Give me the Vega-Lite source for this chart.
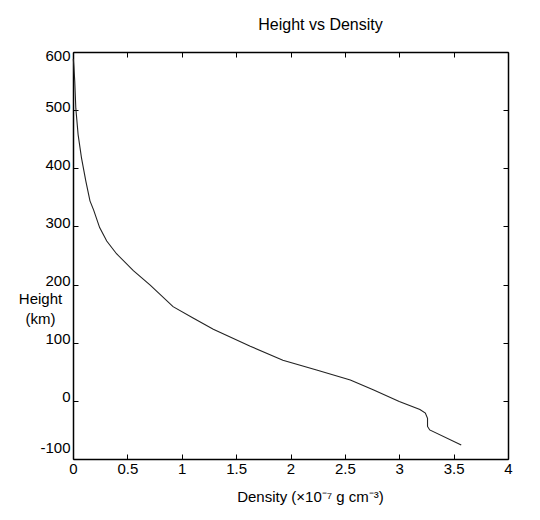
{
  "$schema": "https://vega.github.io/schema/vega-lite/v6.json",
  "width": 435,
  "height": 407,
  "autosize": "none",
  "padding": {"left": 73, "top": 52, "right": 32, "bottom": 61},
  "background": "white",
  "title": {
    "text": "Height vs Density",
    "anchor": "middle",
    "dx": 30,
    "offset": 15,
    "fontSize": 16,
    "fontWeight": "normal",
    "font": "Liberation Sans",
    "color": "black"
  },
  "data": {
    "values": [
      {"Density": 0.003, "Height": 588},
      {"Density": 0.008, "Height": 575},
      {"Density": 0.016, "Height": 550},
      {"Density": 0.026, "Height": 503},
      {"Density": 0.047, "Height": 458},
      {"Density": 0.078, "Height": 418},
      {"Density": 0.118, "Height": 378},
      {"Density": 0.156, "Height": 344},
      {"Density": 0.19, "Height": 328},
      {"Density": 0.245, "Height": 298},
      {"Density": 0.31, "Height": 275},
      {"Density": 0.4, "Height": 253},
      {"Density": 0.555, "Height": 224},
      {"Density": 0.71, "Height": 199},
      {"Density": 0.92, "Height": 162},
      {"Density": 1.1, "Height": 143},
      {"Density": 1.29, "Height": 123},
      {"Density": 1.63, "Height": 94},
      {"Density": 1.93, "Height": 70},
      {"Density": 2.24, "Height": 53},
      {"Density": 2.55, "Height": 36},
      {"Density": 2.76, "Height": 19},
      {"Density": 3.0, "Height": -1},
      {"Density": 3.19, "Height": -15},
      {"Density": 3.24, "Height": -21},
      {"Density": 3.26, "Height": -30},
      {"Density": 3.26, "Height": -44},
      {"Density": 3.28, "Height": -50},
      {"Density": 3.57, "Height": -76}
    ]
  },
  "layer": [
    {
      "mark": {"type": "line", "color": "#222222", "strokeWidth": 1.1},
      "encoding": {
        "x": {
          "field": "Density",
          "type": "quantitative",
          "scale": {"domain": [0, 4], "nice": false, "zero": false},
          "axis": {
            "orient": "bottom",
            "values": [0, 0.5, 1, 1.5, 2, 2.5, 3, 3.5, 4],
            "format": "~g",
            "labelFlush": false,
            "title": "Density (×10⁻⁷ g cm⁻³)",
            "titleX": 237,
            "titleY": 42,
            "titleAlign": "center",
            "titleBaseline": "alphabetic",
            "labelPadding": 7
          }
        },
        "y": {
          "field": "Height",
          "type": "quantitative",
          "scale": {"domain": [-100, 600], "nice": false, "zero": false},
          "axis": {
            "orient": "left",
            "values": [-100, 0, 100, 200, 300, 400, 500, 600],
            "labelExpr": "replace(datum.label, '−', '-')",
            "title": ["Height", "(km)"],
            "titleAngle": 0,
            "titleX": -33,
            "titleY": 251,
            "titleAlign": "center",
            "titleBaseline": "alphabetic",
            "titleLineHeight": 20,
            "labelFlush": true,
            "labelOffset": -4,
            "labelPadding": 8
          }
        },
        "order": {"field": "Height", "sort": "descending"}
      }
    },
    {
      "mark": {"type": "line", "opacity": 0},
      "encoding": {
        "x": {
          "field": "Density",
          "type": "quantitative",
          "axis": {
            "orient": "top",
            "values": [0, 0.5, 1, 1.5, 2, 2.5, 3, 3.5, 4],
            "labels": false,
            "title": null
          }
        },
        "y": {
          "field": "Height",
          "type": "quantitative",
          "axis": {
            "orient": "right",
            "values": [-100, 0, 100, 200, 300, 400, 500, 600],
            "labels": false,
            "title": null
          }
        },
        "order": {"field": "Height", "sort": "descending"}
      }
    }
  ],
  "resolve": {"axis": {"x": "independent", "y": "independent"}},
  "config": {
    "view": {"stroke": null},
    "axis": {
      "grid": false,
      "domainColor": "black",
      "domainWidth": 1.5,
      "tickColor": "black",
      "tickWidth": 1,
      "tickSize": -5,
      "labelFont": "Liberation Sans",
      "labelFontSize": 15,
      "labelColor": "black",
      "titleFont": "Liberation Sans",
      "titleFontSize": 15,
      "titleFontWeight": "normal",
      "titleColor": "black"
    }
  }
}
